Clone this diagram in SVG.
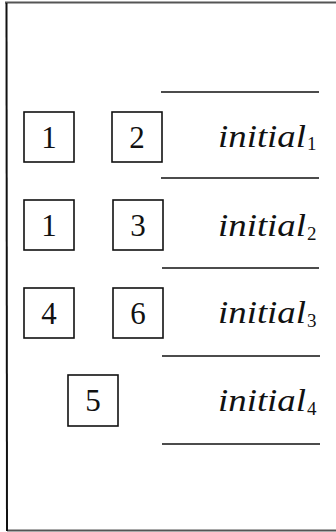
<svg xmlns="http://www.w3.org/2000/svg" width="336" height="532" viewBox="0 0 336 532">
<defs>
<style type="text/css">
rect.box{fill:#fff;stroke:#111;stroke-width:1.6}
line.rule{stroke:#111;stroke-width:1.4}
line.frame{stroke:#555;stroke-width:2}
</style>
</defs>
<rect width="336" height="532" fill="#fff"/>
<g id="frame">
<line class="frame" x1="5" y1="2.5" x2="336" y2="2.5"/>
<line class="frame" x1="7" y1="530.5" x2="336" y2="530.5"/>
<line x1="6.5" y1="3" x2="7" y2="531" stroke="#111" stroke-width="2"/>
</g>
<g id="connectors">
<line class="rule" x1="161" y1="92" x2="319" y2="92"/>
<line class="rule" x1="161" y1="178" x2="319" y2="178"/>
<line class="rule" x1="162" y1="268" x2="319" y2="268"/>
<line class="rule" x1="162" y1="356" x2="320" y2="356"/>
<line class="rule" x1="162" y1="444" x2="320" y2="444"/>
</g>
<g font-family="Liberation Serif, DejaVu Serif, serif" fill="#111">
<g font-size="31" text-anchor="middle">
<g id="r1b1"><rect class="box" x="24" y="112" width="50" height="50"/><text x="49" y="148">1</text></g>
<g id="r1b2"><rect class="box" x="112" y="112" width="50" height="50"/><text x="137" y="148">2</text></g>
<g id="r2b1"><rect class="box" x="24" y="200" width="50" height="50"/><text x="49" y="236">1</text></g>
<g id="r2b2"><rect class="box" x="113" y="200" width="50" height="50"/><text x="138" y="236">3</text></g>
<g id="r3b1"><rect class="box" x="24" y="288" width="50" height="50"/><text x="49" y="324">4</text></g>
<g id="r3b2"><rect class="box" x="113" y="288" width="50" height="50"/><text x="138" y="324">6</text></g>
<g id="r4b1"><rect class="box" x="68" y="375" width="50" height="51"/><text x="93" y="411">5</text></g>
</g>
<g font-size="31" font-style="italic">
<g id="r1lab"><text x="218" y="146.5" textLength="88" lengthAdjust="spacingAndGlyphs">initial</text><text font-style="normal" font-size="19" x="307" y="150">1</text></g>
<g id="r2lab"><text x="218" y="236" textLength="88" lengthAdjust="spacingAndGlyphs">initial</text><text font-style="normal" font-size="19" x="307" y="240">2</text></g>
<g id="r3lab"><text x="218" y="323" textLength="88" lengthAdjust="spacingAndGlyphs">initial</text><text font-style="normal" font-size="19" x="307" y="327">3</text></g>
<g id="r4lab"><text x="218" y="411" textLength="88" lengthAdjust="spacingAndGlyphs">initial</text><text font-style="normal" font-size="19" x="307" y="415">4</text></g>
</g>
</g>
</svg>
